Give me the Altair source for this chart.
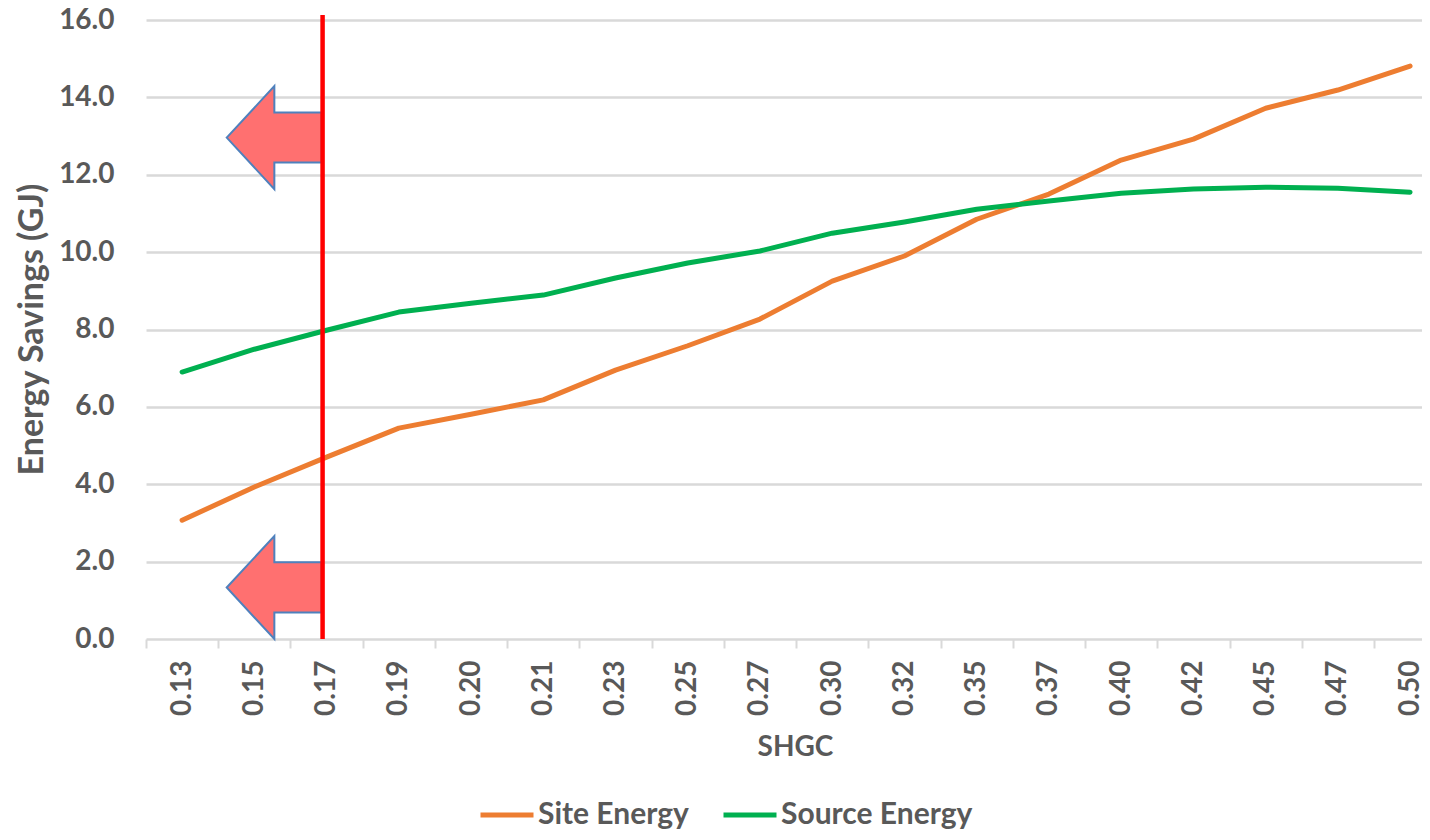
import altair as alt
import pandas as pd

# ---- data ----
shgc = ["0.13", "0.15", "0.17", "0.19", "0.20", "0.21", "0.23", "0.25", "0.27",
        "0.30", "0.32", "0.35", "0.37", "0.40", "0.42", "0.45", "0.47", "0.50"]
site_energy = [3.07, 3.93, 4.70, 5.45, 5.81, 6.18, 6.95, 7.58, 8.27,
               9.25, 9.90, 10.85, 11.50, 12.38, 12.92, 13.72, 14.19, 14.81]
source_energy = [6.90, 7.49, 7.98, 8.45, 8.68, 8.89, 9.33, 9.72, 10.03,
                 10.49, 10.78, 11.11, 11.32, 11.52, 11.63, 11.68, 11.65, 11.55]
series_names = ["Site Energy", "Source Energy"]
series_colors = ["#ED7D31", "#00B050"]
y_ticks = [0, 2, 4, 6, 8, 10, 12, 14, 16]

# annotation: limit line and left-pointing arrows
limit_shgc = ["0.17"]
limit_bottom = [0.0]
limit_top = [16.13]
arrow_shgc = ["0.15", "0.15"]
arrow_y = [12.96, 1.33]

rows = []
for name, vals in zip(series_names, [site_energy, source_energy]):
    for s, v in zip(shgc, vals):
        rows.append({"shgc": s, "value": v, "series": name})
df = pd.DataFrame(rows)
limit_df = pd.DataFrame({"shgc": limit_shgc, "bottom": limit_bottom, "top": limit_top})
arrow_df = pd.DataFrame({"shgc": arrow_shgc, "value": arrow_y})

FONT = "Lato"
TXT = "#595959"
GRID = "#D9D9D9"

x_scale = alt.Scale(type="band", domain=shgc, range=[0, 1300.2], paddingInner=0, paddingOuter=0)
y_scale = alt.Scale(domain=[0, 16], nice=False, zero=True)

x_axis = alt.Axis(
    title="SHGC", labelAngle=-90, labelFont=FONT, labelFontSize=28, labelFontWeight="bold",
    labelColor=TXT, labelPadding=12, domain=False, ticks=True, tickBand="extent",
    tickSize=9, tickColor=GRID, tickWidth=2, grid=False,
    titleFont=FONT, titleFontSize=28, titleFontWeight="bold", titleColor=TXT,
    titleX=649, titleY=108, titleAlign="center", titleBaseline="middle", labelOverlap=False,
)
y_axis = alt.Axis(
    title="Energy Savings (GJ)", values=y_ticks, format=".1f", labelFont=FONT, labelFontSize=28,
    labelFontWeight="bold", labelColor=TXT, labelPadding=32, domain=False, ticks=False, tickSize=0,
    grid=True, gridColor=GRID, gridWidth=2.5,
    titleFont=FONT, titleFontSize=34, titleFontWeight="bold", titleColor=TXT,
    titleX=-114, titleY=309, titleAlign="center", titleBaseline="middle", titleAngle=-90,
)

def xenc():
    return alt.X("shgc:N", sort=shgc, scale=x_scale, axis=x_axis)

def yenc(field="value"):
    return alt.Y(f"{field}:Q", scale=y_scale, axis=y_axis)

lines = alt.Chart(df).mark_line(strokeWidth=5, strokeCap="round", strokeJoin="round").encode(
    x=xenc(),
    y=yenc(),
    color=alt.Color(
        "series:N",
        scale=alt.Scale(domain=series_names, range=series_colors),
        legend=alt.Legend(
            orient="none", legendX=332, legendY=766, direction="horizontal", title=None,
            symbolType="stroke", symbolStrokeWidth=5, symbolSize=2809,
            labelFont=FONT, labelFontSize=30, labelFontWeight="bold", labelColor=TXT,
            labelLimit=0, columnPadding=24, labelOffset=2,
        ),
    ),
)

arrow_path = "M -0.925 0 L 0 -1 L 0 -0.49 L 0.92 -0.49 L 0.92 0.485 L 0 0.485 L 0 1 Z"
arrows = alt.Chart(arrow_df).mark_point(
    shape=arrow_path, size=10609, filled=True, fill="#FF7070", fillOpacity=1,
    stroke="#4F81BD", strokeWidth=2, opacity=1, xOffset=20,
).encode(x=xenc(), y=yenc())

limit = alt.Chart(limit_df).mark_rule(color="#FF0000", strokeWidth=4.5, xOffset=-4).encode(
    x=xenc(), y=yenc("bottom"), y2="top:Q"
)

chart = alt.layer(arrows, lines, limit).properties(
    width=1276, height=619,
    autosize=alt.AutoSizeParams(type="none"),
    padding={"left": 138, "top": 12, "right": 0, "bottom": 193},
    background="white",
).configure_view(stroke=None)

chart.save("out.html", embed_options={"renderer": "svg", "actions": False})
